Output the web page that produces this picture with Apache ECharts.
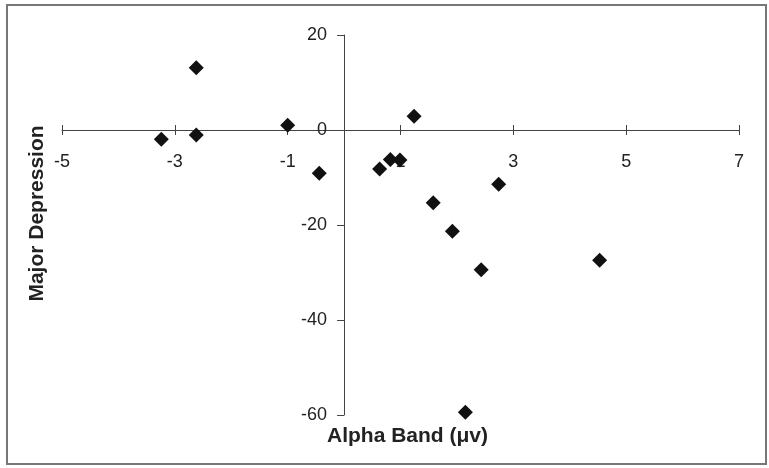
<!DOCTYPE html>
<html style="height: 100%">
<head>
    <meta charset="utf-8">
    <style>
        body { margin: 0; background: #fff; }
        #container { width: 769px; height: 468px; }
    </style>
</head>
<body>
<div id="container"></div>
<script src="https://cdn.jsdelivr.net/npm/echarts@6/dist/echarts.min.js"></script>
<script type="text/javascript">
    // alpha band (x) and major depression (y) values
    var alphaBand = [-2.62, -3.24, -2.62, -1.0, -0.44, 1.24, 0.63, 0.82, 0.99, 1.58, 1.92, 2.74, 2.43, 4.53, 2.15];
    var majorDepression = [13.1, -1.95, -1.05, 1.0, -9.1, 2.9, -8.2, -6.2, -6.3, -15.3, -21.3, -11.4, -29.4, -27.4, -59.4];

    var xTicks = [-5, -3, -1, 1, 3, 5, 7];
    var yTicks = [-60, -40, -20, 0, 20];
    var xMin = -5, xMax = 7, yMin = -60, yMax = 20;

    var points = alphaBand.map(function (x, i) {
        return [x, majorDepression[i]];
    });

    var font = 'Liberation Sans, Arial, sans-serif';
    var lineColor = '#444';

    var W = 769, H = 468;
    var grid = {left: 62, right: 30, top: 35, bottom: 53};
    var gw = W - grid.left - grid.right;
    var gh = H - grid.top - grid.bottom;
    // axes cross at zero, so shift them in from the grid edges
    var zeroFromLeft = (0 - xMin) / (xMax - xMin) * gw;
    var zeroFromBottom = (0 - yMin) / (yMax - yMin) * gh;
    var zeroFromTop = gh - zeroFromBottom;

    var myChart = echarts.init(document.getElementById('container'));

    var option = {
        backgroundColor: '#fff',
        animation: false,
        grid: {left: grid.left, right: grid.right, top: grid.top, bottom: grid.bottom, containLabel: false, outerBoundsMode: 'none'},
        graphic: [{
            type: 'rect',
            shape: {x: 7, y: 5, width: 759, height: 459},
            style: {fill: 'none', stroke: '#777', lineWidth: 2},
            silent: true
        }],
        xAxis: [{
            type: 'value',
            min: xMin,
            max: xMax,
            position: 'bottom',
            offset: -zeroFromBottom,
            axisLine: {onZero: false, lineStyle: {color: lineColor, width: 1}},
            axisTick: {show: true, length: 5, customValues: xTicks, lineStyle: {color: lineColor}},
            axisLabel: {customValues: xTicks, margin: 23, fontSize: 18, color: '#222', fontFamily: font},
            splitLine: {show: false},
            name: 'Alpha Band (\u03bcv)',
            nameLocation: 'middle',
            nameGap: 296,
            nameTextStyle: {fontSize: 21, fontWeight: 'bold', color: '#222', fontFamily: font, padding: [0, 0, 0, 14]}
        }, {
            // second copy of the axis so the ticks cross the line
            type: 'value',
            min: xMin,
            max: xMax,
            position: 'top',
            offset: -zeroFromTop,
            axisLine: {show: false, onZero: false},
            axisTick: {show: true, length: 5, customValues: xTicks, lineStyle: {color: lineColor}},
            axisLabel: {show: false},
            splitLine: {show: false}
        }],
        yAxis: {
            type: 'value',
            min: yMin,
            max: yMax,
            position: 'left',
            offset: -zeroFromLeft,
            axisLine: {onZero: false, lineStyle: {color: lineColor, width: 1}},
            axisTick: {show: true, length: 7, customValues: yTicks, lineStyle: {color: lineColor}},
            axisLabel: {customValues: yTicks, margin: 17, fontSize: 18, color: '#222', fontFamily: font},
            splitLine: {show: false},
            name: 'Major Depression',
            nameLocation: 'middle',
            nameGap: 296,
            nameTextStyle: {fontSize: 21, fontWeight: 'bold', color: '#222', fontFamily: font, padding: [0, 0, 0, 23]}
        },
        series: [{
            type: 'scatter',
            xAxisIndex: 0,
            symbol: 'diamond',
            symbolSize: [15, 15],
            itemStyle: {color: '#111', opacity: 1},
            data: points
        }]
    };

    myChart.setOption(option);
</script>
</body>
</html>
